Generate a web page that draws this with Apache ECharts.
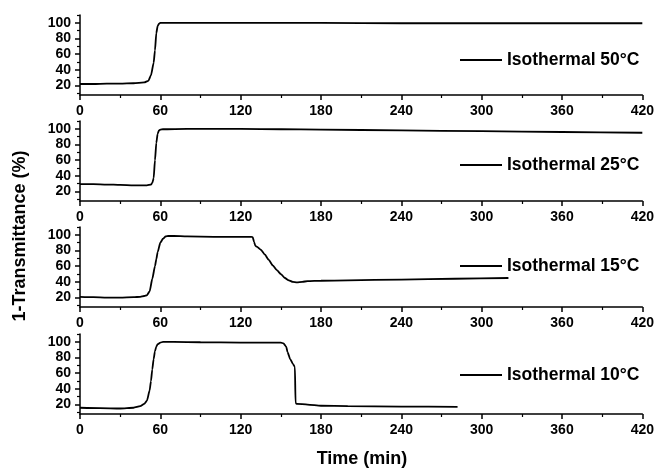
<!DOCTYPE html>
<html>
<head>
<meta charset="utf-8">
<script src="https://cdn.jsdelivr.net/npm/echarts@6/dist/echarts.min.js"></script>
<style>
  html, body { margin: 0; padding: 0; background: #fff; }
  #echarts { width: 657px; height: 470px; }
</style>
</head>
<body>
<div id="echarts"></div>
<script>
// 数据
var names = ['Isothermal 50°C', 'Isothermal 25°C', 'Isothermal 15°C', 'Isothermal 10°C'];
var xTicks = [0, 60, 120, 180, 240, 300, 360, 420];
var yTicks = [20, 40, 60, 80, 100];
var yMinorTicks = [10, 30, 50, 70, 90, 110];

var t50 = [0, 10, 20, 30, 40, 48, 51, 53, 55, 56, 57, 58, 59, 60, 62, 70, 120, 180, 240, 300, 360, 420];
var v50 = [22, 22, 22.5, 22.5, 23, 24, 26, 33, 49, 65, 87, 96, 99, 100, 100, 100, 100, 100, 99.5, 99.5, 99.5, 99.5];

var t25 = [0, 10, 20, 30, 40, 50, 53, 54, 55, 56, 57, 58, 59, 60, 62, 80, 120, 150, 180, 240, 300, 360, 420];
var v25 = [29.5, 29.5, 29, 28.5, 28, 28, 29, 31, 37, 60, 82, 94, 98, 99, 99.5, 100, 100, 99.5, 99, 98, 97, 96, 95];

var t15 = [0, 10, 20, 30, 40, 45, 48, 50, 52, 54, 56, 57, 58, 60, 62, 64, 66, 70, 80, 100, 120, 128, 129, 130, 131, 132, 135, 138, 141, 144, 147, 150, 153, 156, 159, 162, 166, 170, 180, 200, 240, 280, 320];
var v15 = [21, 20.5, 20, 20, 20.5, 21, 22, 23, 28, 44, 60, 69, 78, 90, 95, 98, 98.5, 98.5, 98, 97.5, 97.5, 97.5, 97, 91, 86, 85, 81, 75, 68, 61, 55, 50, 45, 42, 40, 39.5, 40, 41, 41.5, 42, 43, 44, 45];

var t10 = [0, 15, 30, 40, 45, 48, 50, 52, 53, 54, 55, 56, 57, 58, 60, 62, 70, 90, 120, 140, 150, 152, 154, 155, 157, 159, 160.5, 161, 162, 170, 180, 200, 240, 282];
var v10 = [16, 15.5, 15, 16, 18, 21, 25, 38, 50, 65, 78, 88, 94, 97, 99, 100, 100, 99.5, 99, 99, 99, 98, 94, 87, 78, 72, 68, 22, 21, 20, 18.5, 18, 17.5, 17];

var times = [t50, t25, t15, t10];
var values = [v50, v25, v15, v10];

var myChart = echarts.init(document.getElementById('echarts'));
var font = 'Liberation Sans, Arial, sans-serif';
var tops = [15, 121, 227, 334];
var legendY = [58, 163, 264, 373];

var grid = [], xAxis = [], yAxis = [], series = [], legend = [];
for (var i = 0; i < 4; i++) {
  grid.push({ left: 80, right: 13, top: tops[i], height: 80 });
  xAxis.push({
    gridIndex: i,
    type: 'value',
    min: 0,
    max: 420,
    interval: 60,
    axisLine: { lineStyle: { color: '#000', width: 1.5 } },
    axisTick: { length: 5, lineStyle: { color: '#000', width: 1.5 } },
    minorTick: { show: true, splitNumber: 2, length: 3, lineStyle: { color: '#000', width: 1.2 } },
    splitLine: { show: false },
    axisLabel: { color: '#000', fontSize: 14, fontWeight: 'bold', fontFamily: font, margin: 9 }
  });
  // 主刻度 + 标签
  yAxis.push({
    gridIndex: i,
    type: 'value',
    min: 8,
    max: 110,
    axisLine: { show: true, lineStyle: { color: '#000', width: 1.5 } },
    axisTick: { show: true, customValues: yTicks, length: 5, lineStyle: { color: '#000', width: 1.5 } },
    axisLabel: { customValues: yTicks, color: '#000', fontSize: 14, fontWeight: 'bold', fontFamily: font, margin: 9 },
    splitLine: { show: false }
  });
  // 次刻度
  yAxis.push({
    gridIndex: i,
    type: 'value',
    position: 'left',
    min: 8,
    max: 110,
    axisLine: { show: false },
    axisTick: { show: true, customValues: yMinorTicks, length: 3, lineStyle: { color: '#000', width: 1.2 } },
    axisLabel: { show: false },
    splitLine: { show: false }
  });
  var pts = [];
  for (var j = 0; j < times[i].length; j++) {
    pts.push([times[i][j], values[i][j]]);
  }
  series.push({
    name: names[i],
    type: 'line',
    xAxisIndex: i,
    yAxisIndex: i * 2,
    data: pts,
    showSymbol: false,
    symbol: 'none',
    smooth: 0.2,
    smoothMonotone: 'x',
    lineStyle: { color: '#000', width: 1.8 },
    itemStyle: { color: '#000' }
  });
  legend.push({
    data: [names[i]],
    left: 460,
    top: legendY[i] - 7,
    padding: 0,
    icon: 'rect',
    itemWidth: 42,
    itemHeight: 2,
    itemGap: 5,
    textStyle: { color: '#000', fontSize: 17.5, fontWeight: 'bold', fontFamily: font, padding: [0, 0, 0, 0] }
  });
}

var option = {
  backgroundColor: '#fff',
  animation: false,
  grid: grid,
  xAxis: xAxis,
  yAxis: yAxis,
  legend: legend,
  series: series,
  graphic: [
    {
      type: 'text',
      x: 20,
      y: 236,
      rotation: Math.PI / 2,
      style: {
        text: '1-Transmittance (%)',
        font: 'bold 18px ' + font,
        fill: '#000',
        textAlign: 'center',
        textVerticalAlign: 'middle'
      }
    },
    {
      type: 'text',
      x: 362,
      y: 459,
      style: {
        text: 'Time (min)',
        font: 'bold 18px ' + font,
        fill: '#000',
        textAlign: 'center',
        textVerticalAlign: 'middle'
      }
    }
  ]
};

myChart.setOption(option);
</script>
</body>
</html>
